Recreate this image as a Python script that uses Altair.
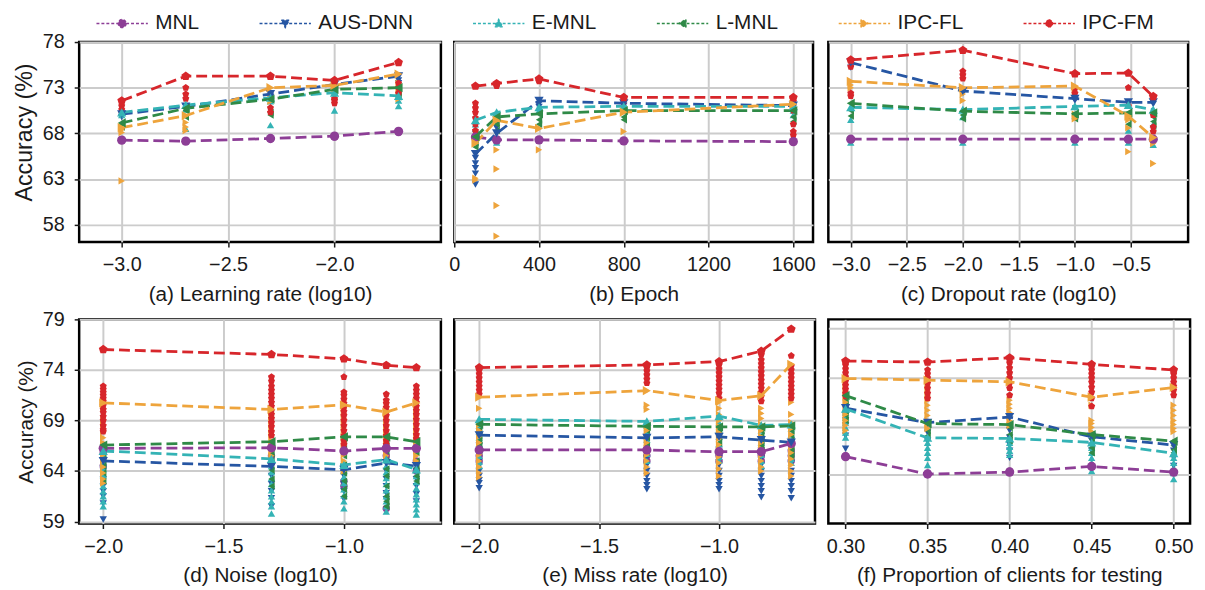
import altair as alt
import pandas as pd

FONT = "Liberation Sans"
INK = "#1a1a1a"

MODELS = ["MNL", "AUS-DNN", "E-MNL", "L-MNL", "IPC-FL", "IPC-FM"]
COLORS = ["#8d3e96", "#2656a3", "#34b3b5", "#2f8a47", "#eea43c", "#d7262b"]
PENTAGON = "M0,-1L0.951,-0.309L0.588,0.809L-0.588,0.809L-0.951,-0.309Z"
SHAPES = ["circle", "triangle-down", "triangle-up", "triangle-left", "triangle-right", PENTAGON]
SEG = "M-6.5,0L6.5,0"
LEGEND_SHAPES = [
    SEG + "M1,0A1,1,0,1,1,-1,0A1,1,0,1,1,1,0Z",
    SEG + "M-1,-0.85L1,-0.85L0,1Z",
    SEG + "M-1,0.85L1,0.85L0,-1Z",
    SEG + "M0.85,-1L0.85,1L-1,0Z",
    SEG + "M-0.85,-1L-0.85,1L1,0Z",
    SEG + PENTAGON,
]

# ---------------- (a) Learning rate (log10) ----------------
A_X = [-3.0, -2.699, -2.301, -2.0, -1.699]
A_MEAN = {
    "MNL": [67.26, 67.15, 67.44, 67.70, 68.23],
    "AUS-DNN": [70.10, 70.95, 72.30, 73.36, 74.26],
    "E-MNL": [70.30, 71.10, 71.90, 72.46, 72.10],
    "L-MNL": [69.15, 70.74, 71.74, 72.82, 73.00],
    "IPC-FL": [68.62, 69.95, 73.00, 73.25, 74.50],
    "IPC-FM": [71.57, 74.26, 74.26, 73.80, 75.77],
}
A_SCAT = {
    "MNL": [[67.3], [67.2], [67.4], [67.6], [68.1]],
    "AUS-DNN": [[70.1, 69.8], [70.9], [72.0, 71.5], [73.0], [73.8, 73.5]],
    "E-MNL": [[70.3, 70.0], [70.6, 68.5], [68.9, 71.5], [70.5, 72.0], [71.0, 71.6]],
    "L-MNL": [[69.0, 68.7], [70.5, 69.8], [70.3, 70.0], [72.5], [72.5, 72.0]],
    "IPC-FL": [[62.8, 68.1, 68.4], [68.3, 68.7, 69.2], [71.5, 72.0], [72.8], [72.5, 71.8, 73.5]],
    "IPC-FM": [[71.0, 70.6, 70.3], [73.0, 72.3, 71.8], [70.8, 70.3], [71.8, 71.3, 71.6], [73.5, 73.0, 72.4]],
}

# ---------------- (b) Epoch ----------------
B_X = [100, 200, 400, 800, 1600]
B_MEAN = {
    "MNL": [67.60, 67.29, 67.29, 67.18, 67.10],
    "AUS-DNN": [65.75, 68.00, 71.57, 71.30, 71.04],
    "E-MNL": [69.43, 70.30, 70.86, 70.96, 70.96],
    "L-MNL": [67.64, 69.80, 70.14, 70.50, 70.50],
    "IPC-FL": [66.93, 69.43, 68.54, 70.32, 71.20],
    "IPC-FM": [73.18, 73.46, 73.96, 71.93, 71.93],
}
B_SCAT = {
    "MNL": [[67.3], [67.2], [67.3], [67.2], [67.1]],
    "AUS-DNN": [[65.3, 64.7, 64.2, 63.6, 62.4], [67.3, 68.6, 69.2], [71.2, 70.9], [71.0], [70.8]],
    "E-MNL": [[69.0, 68.5], [67.0, 69.8], [70.5], [70.6], [70.5, 70.0]],
    "L-MNL": [[67.0, 66.5], [69.0, 68.3], [69.5, 69.0], [69.8, 69.5], [69.8, 69.3]],
    "IPC-FL": [[67.5, 62.9, 63.1], [66.2, 64.1, 60.1, 56.75], [66.2], [68.2], [70.8]],
    "IPC-FM": [[71.3, 70.8, 70.3, 69.7, 69.0, 68.3], [73.2], [73.7], [71.5], [71.5, 70.5, 69.0, 68.2, 67.8]],
}

# ---------------- (c) Dropout rate (log10) ----------------
C_X = [-3.0, -2.0, -1.0, -0.523, -0.301]
C_MEAN = {
    "MNL": [67.36, 67.36, 67.36, 67.36, 67.36],
    "AUS-DNN": [75.75, 72.64, 71.80, 71.40, 71.40],
    "E-MNL": [70.86, 70.60, 70.96, 71.10, 70.60],
    "L-MNL": [71.29, 70.43, 70.14, 70.25, 70.25],
    "IPC-FL": [73.70, 73.00, 73.18, 69.90, 67.54],
    "IPC-FM": [76.04, 77.10, 74.54, 74.60, 72.04],
}
C_SCAT = {
    "MNL": [[67.4], [67.4], [67.4], [67.3], [67.3]],
    "AUS-DNN": [[75.2], [72.4], [71.6], [71.2], [71.2]],
    "E-MNL": [[67.0, 69.5], [67.0, 69.8], [67.0, 69.9], [68.3, 67.0], [66.75, 69.0]],
    "L-MNL": [[70.5, 69.9], [70.0, 69.6], [69.9, 69.6], [69.7, 69.0], [69.8, 69.3, 68.8]],
    "IPC-FL": [[73.3, 73.0], [72.8, 72.3, 71.6], [72.5, 70.1, 69.6], [69.5, 68.6, 66.0], [66.9, 64.7]],
    "IPC-FM": [[75.3, 72.4, 72.1], [74.8, 74.4, 74.0], [72.9, 72.4], [73.0, 71.0], [68.7, 68.2, 70.0]],
}

# ---------------- (d) Noise (log10) ----------------
D_X = [-2.0, -1.301, -1.0, -0.824, -0.699]
D_MEAN = {
    "MNL": [66.24, 66.30, 65.98, 66.24, 66.24],
    "AUS-DNN": [65.00, 64.45, 64.12, 64.80, 64.49],
    "E-MNL": [65.98, 65.20, 64.60, 65.13, 64.16],
    "L-MNL": [66.57, 66.90, 67.38, 67.38, 66.90],
    "IPC-FL": [70.74, 70.09, 70.54, 69.83, 70.74],
    "IPC-FM": [76.02, 75.53, 75.10, 74.46, 74.23],
}
D_SCAT = {
    "MNL": [[65.8, 64.5], [65.5, 64.8], [63.0, 62.5], [65.5, 60.3], [65.0, 64.0]],
    "AUS-DNN": [[64.0, 63.2, 62.5, 62.0, 61.5, 60.8, 59.2], [63.5, 62.7, 62.0, 61.3, 60.5],
                [63.5, 62.7, 62.0, 61.2], [64.0, 63.2, 62.5, 61.8, 61.2], [64.0, 63.2, 62.5, 61.7, 61.0]],
    "E-MNL": [[65.5, 64.8, 64.2, 63.6, 63.0, 62.5, 62.0, 61.5, 61.0, 60.5],
              [64.5, 63.9, 63.3, 62.7, 62.1, 61.5, 61.0, 60.5, 59.8],
              [64.0, 63.4, 62.8, 62.2, 61.6, 61.0, 60.3],
              [64.5, 63.9, 63.3, 62.7, 62.1, 61.5, 61.0, 60.5, 60.0],
              [63.5, 62.9, 62.3, 61.7, 61.2, 60.7, 60.2, 59.7]],
    "L-MNL": [[66.3, 65.7, 65.1, 64.5, 63.8, 63.0], [66.5, 65.7, 65.0, 64.1, 63.2, 62.5],
              [67.0, 66.2, 65.5, 64.6, 63.8, 63.0, 62.2, 61.5],
              [66.8, 66.0, 65.0, 64.2, 63.5, 62.5, 61.5, 61.0, 60.5], [66.5, 65.8, 65.0, 64.3, 63.5, 63.0]],
    "IPC-FL": [[70.2, 69.0, 68.5, 67.9, 67.3, 66.8, 66.2, 65.6, 65.0, 64.4, 63.8, 63.2, 62.8],
               [69.8, 69.4, 69.0, 68.6, 68.1, 67.6, 67.0, 66.5, 66.0, 65.5],
               [70.2, 69.7, 69.2, 68.6, 68.0, 67.4, 66.8, 66.2, 65.6, 65.0, 64.4, 64.0],
               [69.5, 69.0, 68.5, 68.0, 67.5, 67.0, 66.5, 66.0, 65.5],
               [70.0, 69.5, 69.0, 68.5, 68.0, 67.5, 67.0, 66.5, 66.0, 65.5, 65.0]],
    "IPC-FM": [[72.4, 72.1, 71.8, 71.5, 71.2, 70.9, 70.5, 70.1, 69.8, 69.4, 69.0, 68.5, 68.1, 67.9],
               [73.3, 72.9, 72.4, 72.0, 71.6, 71.2, 70.8, 70.4, 70.0, 69.6, 69.2, 68.8, 68.4, 67.9, 67.5],
               [73.3, 71.8, 71.5, 71.1, 70.7, 70.3, 69.9, 69.5, 69.0, 68.5, 68.0, 67.5, 67.0, 66.6],
               [71.6, 71.0, 70.7, 70.3, 69.9, 69.5, 69.0, 68.5, 68.0, 67.5, 67.0, 66.6],
               [72.4, 72.0, 71.6, 71.2, 70.8, 70.4, 70.0, 69.6, 69.1, 68.6, 68.1, 67.6, 67.2]],
}

# ---------------- (e) Miss rate (log10) ----------------
E_X = [-2.0, -1.301, -1.0, -0.824, -0.699]
E_MEAN = {
    "MNL": [66.08, 66.08, 65.91, 65.91, 66.73],
    "AUS-DNN": [67.54, 67.28, 67.38, 67.06, 66.83],
    "E-MNL": [69.11, 68.91, 69.43, 68.52, 68.59],
    "L-MNL": [68.62, 68.42, 68.36, 68.36, 68.46],
    "IPC-FL": [71.30, 71.95, 70.97, 71.46, 74.55],
    "IPC-FM": [74.23, 74.49, 74.82, 75.86, 78.04],
}
E_SCAT = {
    "MNL": [[65.5, 65.0], [65.5, 65.0], [65.5, 65.0], [65.5, 65.0], [66.0, 65.5, 65.0]],
    "AUS-DNN": [[66.5, 65.8, 65.0, 64.5, 64.0, 63.5, 63.1, 62.8, 62.3],
                [66.0, 65.3, 64.6, 64.0, 63.5, 63.0, 62.6, 62.2],
                [66.0, 65.3, 64.6, 64.0, 63.5, 63.0, 62.6, 62.2],
                [66.0, 65.3, 64.6, 64.0, 63.5, 63.0, 62.5, 62.0, 61.4],
                [65.5, 64.8, 64.0, 63.5, 63.0, 62.5, 62.0, 61.3]],
    "E-MNL": [[68.5, 67.9, 67.3, 66.7, 66.1, 65.5, 64.9, 64.5], [68.5, 67.8, 67.1, 66.4, 65.7, 65.0],
              [68.8, 68.1, 67.4, 66.7, 66.0, 65.4, 65.0], [68.0, 67.4, 66.8, 66.2, 65.6, 65.0, 64.5],
              [68.2, 67.6, 67.0, 66.4, 65.8, 65.2, 64.8]],
    "L-MNL": [[68.0, 67.5, 67.0, 66.5, 66.0], [68.0, 67.3, 66.5], [68.0, 67.4, 66.8],
              [68.0, 67.5, 67.0, 66.5, 66.0], [68.0, 67.5, 67.0, 66.5, 66.0, 65.5]],
    "IPC-FL": [[70.2, 68.6, 68.0, 67.4, 66.8, 66.2, 65.6, 65.0, 64.4, 63.8, 63.4],
               [70.5, 70.1, 68.6, 68.0, 67.4, 66.8, 66.2, 65.6, 65.0, 64.4, 63.8],
               [70.8, 70.2, 69.6, 69.0, 68.4, 67.8, 67.2, 66.6, 66.0, 65.4, 64.8, 64.2, 63.5],
               [70.2, 69.7, 69.2, 68.6, 68.0, 67.4, 66.8, 66.2, 65.6, 65.0, 64.4, 64.0],
               [70.8, 69.6, 68.8, 68.2, 67.6, 67.0, 66.4, 65.8, 65.2, 64.6, 64.0, 63.5]],
    "IPC-FM": [[74.0, 73.6, 73.2, 72.8, 72.4, 72.0, 71.6], [74.3, 73.9, 73.5, 73.1, 72.7],
               [74.5, 74.1, 73.7, 73.3, 72.9, 72.5, 72.1, 71.7, 71.2],
               [75.5, 75.0, 74.6, 74.2, 73.8, 73.4, 73.0, 72.6, 72.2, 71.8, 71.4, 70.9],
               [75.4, 74.4, 74.0, 73.6, 73.2, 72.8, 72.4, 72.0, 71.6, 71.2]],
}

# ---------------- (f) Proportion of clients for testing ----------------
F_X = [0.30, 0.35, 0.40, 0.45, 0.50]
F_MEAN = {
    "MNL": [65.42, 63.70, 63.89, 64.45, 63.89],
    "AUS-DNN": [70.22, 68.78, 69.34, 67.38, 66.57],
    "E-MNL": [70.15, 67.28, 67.22, 66.83, 65.75],
    "L-MNL": [71.46, 68.69, 68.59, 67.60, 66.96],
    "IPC-FL": [73.15, 72.99, 72.83, 71.30, 72.27],
    "IPC-FM": [74.88, 74.78, 75.20, 74.55, 74.00],
}
F_SCAT = {
    "MNL": [[65.5], [63.8], [64.0], [64.5], [63.9]],
    "AUS-DNN": [[69.5, 69.0, 68.5, 67.5, 66.2], [68.5, 67.8, 67.0], [68.0, 67.3, 66.6, 66.0, 65.3],
                [67.0, 66.5, 66.0], [66.0, 65.3, 64.5]],
    "E-MNL": [[69.8, 69.3, 68.8, 68.3, 67.8, 67.3], [66.8, 66.3, 65.8, 65.3, 64.6], [66.8, 66.4, 66.0, 65.6],
              [66.3, 65.8, 65.3, 64.8, 64.0], [65.3, 64.8, 64.3, 63.8, 63.2]],
    "L-MNL": [[71.0, 70.5, 70.0, 69.5, 69.0], [68.0, 67.5], [68.3, 67.6, 67.0], [67.2, 66.7, 66.3, 65.8],
              [66.5, 66.1, 65.8]],
    "IPC-FL": [[72.5, 72.0, 71.4, 70.8, 70.2, 69.6, 69.0, 68.5, 68.0],
               [72.5, 72.0, 71.5, 71.0, 70.5, 70.0, 69.5, 69.0, 68.5, 68.2],
               [71.0, 70.6, 70.2, 69.8, 69.4, 69.0, 68.5], [70.5, 69.0, 68.7, 68.3, 67.9],
               [70.5, 70.0, 69.5, 69.0, 68.6, 68.2, 67.9]],
    "IPC-FM": [[74.5, 74.1, 73.7, 73.3, 72.9, 72.5, 72.1, 71.7, 71.4],
               [74.0, 73.6, 73.2, 72.7, 72.2, 71.7, 71.2],
               [74.7, 74.2, 73.7, 73.2, 72.7, 72.2, 71.5],
               [74.0, 73.6, 73.2, 72.8, 72.3, 71.8, 71.2, 70.4],
               [73.6, 73.2, 72.8, 72.4, 72.0, 71.5]],
}
F_GRID = [63.64, 68.39, 73.26, 78.13]

ROW1_Y = [56.1, 78.0]
ROW1_TICKS = [58, 63, 68, 73, 78]
ROW2_Y = [58.8, 79.0]
ROW2_TICKS = [59, 64, 69, 74, 79]


def frames(xs, means, scat):
    lrows, srows = [], []
    for k, m in enumerate(MODELS):
        for i, x in enumerate(xs):
            lrows.append({"model": m, "x": x, "y": means[m][i], "k": k})
            for v in scat[m][i]:
                srows.append({"model": m, "x": x, "y": v, "k": k})
    return pd.DataFrame(lrows), pd.DataFrame(srows)


LEG = alt.Legend(
    orient="none", legendX=33, legendY=-29.5, direction="horizontal", title=None,
    labelFont=FONT, labelFontSize=21, labelColor=INK, symbolSize=64,
    symbolStrokeWidth=1.5, symbolDash=[3, 2], labelOffset=23, columnPadding=57,
    padding=0, symbolOpacity=1,
)


def panel(xs, means, scat, xdom, xvals, xfmt, xtitle, ydom, yvals, width, height,
          left=False, grid_vals=None, legend=False, ytitle_size=21, ytitle_y=None):
    ldf, sdf = frames(xs, means, scat)
    color = alt.Color("model:N", scale=alt.Scale(domain=MODELS, range=COLORS), legend=None)
    shape = alt.Shape("model:N", scale=alt.Scale(domain=MODELS, range=SHAPES), legend=None)
    xenc = alt.X("x:Q", scale=alt.Scale(domain=xdom, nice=False, zero=False),
                 axis=alt.Axis(values=xvals, format=xfmt, title=xtitle, labelFlush=False,
                               labelOverlap=False, tickSize=5, labelPadding=8, titlePadding=9))
    if left:
        kw = dict(values=yvals, format="d", title="Accuracy (%)", tickSize=5,
                  labelPadding=10, titlePadding=6, labelFlush=False, labelOverlap=False,
                  titleFontSize=ytitle_size)
        if ytitle_y is not None:
            kw["titleY"] = ytitle_y
        yaxis = alt.Axis(**kw)
    else:
        yaxis = alt.Axis(values=grid_vals if grid_vals else yvals, labels=False, ticks=False,
                         title=None)
    yenc = alt.Y("y:Q", scale=alt.Scale(domain=ydom, nice=False, zero=False), axis=yaxis)

    scatter = alt.Chart(sdf).mark_point(filled=True, size=56, opacity=1).encode(
        x=xenc, y=yenc, color=color, shape=shape, order="k:Q")
    lines = alt.Chart(ldf).mark_line(strokeWidth=2.8, strokeDash=[11, 5]).encode(
        x=xenc, y=yenc, color=color)
    pts = alt.Chart(ldf).mark_point(filled=True, size=88, opacity=1).encode(
        x=xenc, y=yenc, color=color, shape=shape, order="k:Q")
    layers = [scatter, lines, pts]
    if legend:
        ldata = pd.DataFrame({"model": MODELS})
        leg = alt.Chart(ldata).transform_filter("false").mark_point(filled=False).encode(
            x=alt.value(0), y=alt.value(0),
            fill=alt.Fill("model:N", scale=alt.Scale(domain=MODELS, range=COLORS), legend=LEG),
            stroke=alt.Stroke("model:N", scale=alt.Scale(domain=MODELS, range=COLORS), legend=LEG),
            shape=alt.Shape("model:N", scale=alt.Scale(domain=MODELS, range=LEGEND_SHAPES), legend=LEG),
        )
        layers.append(leg)
    ch = alt.layer(*layers).properties(width=width, height=height)
    ch = ch.resolve_scale(shape="independent", fill="independent", stroke="independent")
    return ch


H1 = 202.4
H2 = 206.6

pa = panel(A_X, A_MEAN, A_SCAT, [-3.2, -1.5], [-3.0, -2.5, -2.0], ".1f", "(a) Learning rate (log10)",
           ROW1_Y, ROW1_TICKS, 366, H1, left=True, legend=True, ytitle_size=23.5, ytitle_y=91)
pb = panel(B_X, B_MEAN, B_SCAT, [0, 1693], [0, 400, 800, 1200, 1600], "d", "(b) Epoch",
           ROW1_Y, ROW1_TICKS, 363, H1)
pc = panel(C_X, C_MEAN, C_SCAT, [-3.2, 0.01], [-3.0, -2.5, -2.0, -1.5, -1.0, -0.5], ".1f",
           "(c) Dropout rate (log10)", ROW1_Y, ROW1_TICKS, 364, H1)
pd_ = panel(D_X, D_MEAN, D_SCAT, [-2.1, -0.597], [-2.0, -1.5, -1.0], ".1f", "(d) Noise (log10)",
            ROW2_Y, ROW2_TICKS, 366, H2, left=True)
pe = panel(E_X, E_MEAN, E_SCAT, [-2.104, -0.6], [-2.0, -1.5, -1.0], ".1f", "(e) Miss rate (log10)",
           ROW2_Y, ROW2_TICKS, 365, H2)
pf = panel(F_X, F_MEAN, F_SCAT, [0.2895, 0.51], [0.30, 0.35, 0.40, 0.45, 0.50], ".2f",
           "(f) Proportion of clients for testing", ROW2_Y, ROW2_TICKS, 366, H2, grid_vals=F_GRID)

chart = alt.concat(
    pa, pb, pc, pd_, pe, pf, columns=3, spacing={"row": 77.6, "column": 13.5}, bounds="flush"
).resolve_scale(
    color="independent", shape="independent"
).properties(
    padding={"left": 3, "top": 0, "right": 2, "bottom": 2}, background="white"
).configure_view(
    stroke="black", strokeWidth=2.5
).configure_axis(
    labelFont=FONT, titleFont=FONT, labelFontSize=20, titleFontSize=21, titleFontWeight="normal",
    labelColor=INK, titleColor=INK, tickColor=INK, tickWidth=1.5, domain=False,
    gridColor="#cccccc", gridWidth=2, gridOpacity=1,
)

chart.save("out.html", embed_options={"renderer": "svg", "actions": False})
